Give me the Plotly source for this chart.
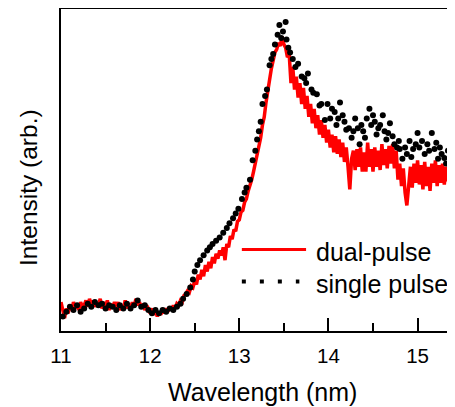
import numpy as np
import plotly.graph_objects as go

# dual-pulse spectrum, sampled every 0.02 nm from 11.00 to 15.36 nm
dual_wl = np.round(np.arange(219) * 0.02 + 11.0, 2)
dual_int = [
    9, 6, 4, 7, 5.5, 8, 6.5, 9, 7, 8.5,
    6.5, 9, 7.5, 8, 9.5, 7.5, 10, 8, 9.5, 7.5,
    9, 8, 10, 7, 9, 7.5, 9.5, 6.5, 8.5, 7,
    9, 7.5, 9, 6.5, 8, 7, 9.5, 7, 8.5, 6.5,
    9, 7.5, 10, 8, 9, 7, 8.5, 6.5, 8, 7,
    5.5, 7, 5, 6.5, 4.5, 6, 5, 7, 5.5, 7,
    6, 7.5, 6.5, 8, 7, 8.5, 8, 9.5, 9, 11,
    11.5, 12.5, 12, 14, 13.5, 15.5, 14.5, 17.5, 16, 19,
    17, 20.5, 18.5, 21.5, 19.5, 23, 21, 24, 22.5, 25,
    23.5, 26, 22, 27, 26, 29.5, 28.5, 31.5, 31, 34,
    34.5, 37, 37.5, 40, 41, 43.5, 45, 47, 49.5, 52,
    54.5, 57, 60, 64, 66.5, 71, 74, 78, 81.5, 84,
    86.5, 87.5, 89.5, 88.5, 91.5, 89, 88, 85, 86, 77,
    82, 75, 79, 72.5, 77, 70.5, 75.5, 69, 73, 66.5,
    70.5, 64.5, 69, 63, 67, 61, 65.5, 60, 64, 58.5,
    62.5, 57, 61, 55.5, 60.5, 55, 59.5, 54, 58.5, 52.5,
    57, 51, 44, 53.5, 56, 50, 56.5, 51, 57, 49.5,
    55.5, 49.5, 58.5, 51, 56.5, 49.5, 57, 51, 56, 50,
    58, 51.5, 56.5, 50.5, 57.5, 52, 58, 50.5, 56, 47,
    52, 45, 50.5, 43, 39, 45, 51, 44.5, 52, 46,
    53, 45.5, 51.5, 44, 52.5, 45, 51, 43.5, 52, 46,
    53, 45, 51.5, 46, 52, 45.5, 51, 46.5, 51.5,
]

# single pulse spectrum (dots)
single_wl = [
    11.02, 11.06, 11.10, 11.14, 11.18, 11.22, 11.26, 11.30, 11.34, 11.38,
    11.42, 11.46, 11.50, 11.54, 11.58, 11.62, 11.66, 11.70, 11.74, 11.78,
    11.82, 11.86, 11.90, 11.94, 11.98, 12.02, 12.06, 12.10, 12.14, 12.18,
    12.22, 12.26, 12.30, 12.34, 12.37, 12.41, 12.45, 12.48, 12.50, 12.53,
    12.56, 12.60, 12.64, 12.67, 12.70, 12.74, 12.78, 12.82, 12.86, 12.89,
    12.93, 12.96, 12.99, 13.03, 13.06, 13.08, 13.12, 13.15, 13.18, 13.20,
    13.22, 13.24, 13.26, 13.29, 13.31, 13.34, 13.36, 13.38, 13.40, 13.43,
    13.45, 13.47, 13.49, 13.52, 13.53, 13.55, 13.57, 13.60, 13.63, 13.66,
    13.70, 13.73, 13.75, 13.77, 13.81, 13.83, 13.87, 13.90, 13.92, 13.96,
    13.99, 14.02, 14.04, 14.07, 14.09, 14.11, 14.13, 14.16, 14.18, 14.20,
    14.23, 14.26, 14.28, 14.30, 14.33, 14.35, 14.37, 14.39, 14.41, 14.43,
    14.46, 14.48, 14.50, 14.52, 14.54, 14.56, 14.58, 14.61, 14.63, 14.65,
    14.67, 14.69, 14.72, 14.74, 14.77, 14.79, 14.80, 14.83, 14.86, 14.88,
    14.91, 14.93, 14.95, 14.98, 15.00, 15.02, 15.05, 15.08, 15.11, 15.13,
    15.16, 15.19, 15.21, 15.23, 15.25, 15.27, 15.30, 15.32, 15.34,
]
single_int = [
    4.5, 6, 7.5, 6.5, 8, 6, 7, 8.5, 7.5, 9,
    8, 8.5, 7, 8, 7.5, 6.5, 8, 7, 8.5, 7,
    8, 9.5, 7.5, 8, 6.5, 5.5, 6.5, 5.5, 6.5, 6,
    7, 6.5, 7.5, 8.5, 10, 11.5, 13.5, 16, 18.5, 20.5,
    22, 23.5, 25, 26, 27, 28, 29, 30.5, 32, 33.5,
    35, 36.5, 38, 41, 43, 44.5, 47, 53, 56, 59.5,
    62, 65, 70.5, 73, 75, 82.5, 84.5, 86, 89, 92,
    95, 91, 93, 96, 90.5, 88, 86.5, 84.5, 82, 83,
    79, 78.5, 77, 80, 75, 74, 73.5, 70, 70.5, 65.5,
    70.5, 66, 69, 68, 64, 66, 71, 67, 65, 62.5,
    63, 60, 62, 66, 63, 58, 64, 62, 60, 66,
    69, 64, 67, 65, 61, 63, 64, 67, 62, 59.5,
    61.5, 64.5, 60.5, 58, 57, 59, 56.5, 53.5, 57, 55,
    59, 54, 56.5, 58, 61.5, 57, 59, 55, 58, 56,
    61.5, 56.5, 58.5, 53.5, 57, 55, 53.7, 52, 56,
]

fig = go.Figure()

fig.add_trace(go.Scatter(x=dual_wl, y=dual_int, mode='lines', name='dual-pulse',
                         line=dict(color='#ff0000', width=3.5), showlegend=False))
fig.add_trace(go.Scatter(x=single_wl, y=single_int, mode='markers', name='single pulse',
                         marker=dict(color='black', size=6), showlegend=False))

# legend drawn by hand so the sample lines are as long as in the original
fig.add_shape(type='line', xref='paper', yref='paper', x0=0.459, x1=0.622, y0=0.253, y1=0.253,
              line=dict(color='#ff0000', width=3))
fig.add_shape(type='line', xref='paper', yref='paper', x0=0.459, x1=0.605, y0=0.154, y1=0.154,
              line=dict(color='black', width=4, dash='4px,14px'))

font = dict(family='Liberation Sans, Arial, sans-serif', color='black')
fig.add_annotation(text='dual-pulse', xref='paper', yref='paper', x=0.643, y=0.245,
                   xanchor='left', yanchor='middle', showarrow=False, font=dict(size=25, **font))
fig.add_annotation(text='single pulse', xref='paper', yref='paper', x=0.643, y=0.146,
                   xanchor='left', yanchor='middle', showarrow=False, font=dict(size=25, **font))

# axis titles
fig.add_annotation(text='Wavelength (nm)', xref='paper', yref='paper', x=0.511, y=-0.188,
                   xanchor='center', yanchor='middle', showarrow=False, font=dict(size=25, **font))
fig.add_annotation(text='Intensity (arb.)', xref='paper', yref='paper', x=-0.084, y=0.447,
                   xanchor='center', yanchor='middle', textangle=-90, showarrow=False,
                   font=dict(size=24.5, **font))

fig.update_xaxes(range=[11, 15.42], showline=True, linecolor='black', linewidth=2, mirror=True,
                 showgrid=False, zeroline=False, ticks='inside', ticklen=13, tickwidth=2,
                 tickcolor='black', tickvals=[11, 12, 13, 14, 15], ticktext=['11', '12', '13', '14', '15'],
                 ticklabelstandoff=5, tickfont=dict(size=20.5, **font),
                 minor=dict(ticks='inside', ticklen=8, tickwidth=2, tickcolor='black', dtick=0.5,
                            tick0=11, showgrid=False))
fig.update_yaxes(range=[0, 100], showline=True, linecolor='black', linewidth=2, showgrid=False,
                 zeroline=False, showticklabels=False, ticks='')

# the page puts the figure 8px in from the top-left corner, so the figure is made 8px smaller
fig.update_layout(width=447, height=399, margin=dict(l=53, r=0, t=1, b=76),
                  plot_bgcolor='white', paper_bgcolor='white', showlegend=False, font=font)

fig.write_html("out.html")
